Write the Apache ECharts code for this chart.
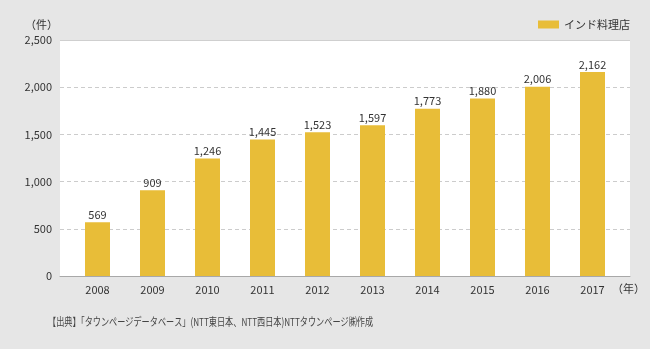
<!DOCTYPE html>
<html><head><meta charset="utf-8">
<script src="https://cdn.jsdelivr.net/npm/echarts@6/dist/echarts.min.js"></script>
<style>html,body{margin:0;padding:0;background:#e6e6e6}#c{width:650px;height:349px}</style>
</head><body><div id="c"></div>
<script>
const categories = ['2008','2009','2010','2011','2012','2013','2014','2015','2016','2017'];
const values = [569, 909, 1246, 1445, 1523, 1597, 1773, 1880, 2006, 2162];
const seriesName = 'インド料理店';
const yTicks = [0, 500, 1000, 1500, 2000, 2500];
const FONT = '"Noto Sans CJK JP", "Noto Sans", sans-serif';
const chart = echarts.init(document.getElementById('c'), null, {renderer:'canvas'});
const yMax = yTicks[yTicks.length-1];
chart.setOption({
  backgroundColor: '#e6e6e6',
  animation: false,
  textStyle: {fontFamily: FONT},
  grid: [
    {left: 60, right: 20, top: 40, bottom: 73, show: true, backgroundColor: '#ffffff', borderWidth: 0,
      containLabel: false, outerBoundsMode: 'none'},
    {left: 70, right: 30, top: 40, bottom: 73, show: false, containLabel: false, outerBoundsMode: 'none'}
  ],
  legend: {
    right: 15, top: 14, itemWidth: 21, itemHeight: 8, itemGap: 4, icon: 'rect',
    textStyle: {fontFamily: FONT, fontSize: 11, color: '#333'},
    data: [seriesName]
  },
  xAxis: [
    {gridIndex: 0, type: 'category', data: categories,
      axisTick: {show: false}, axisLabel: {show: false},
      axisLine: {lineStyle: {color: '#a8a8a8', width: 1}}},
    {gridIndex: 1, type: 'category', data: categories,
      axisTick: {show: false}, axisLine: {show: false},
      axisLabel: {fontFamily: FONT, fontSize: 11, color: '#333', margin: 8}}
  ],
  yAxis: [
    {gridIndex: 0, type: 'value', min: 0, max: yMax, interval: 500,
      axisLine: {show: false}, axisTick: {show: false},
      axisLabel: {fontFamily: FONT, fontSize: 11, color: '#333', margin: 8,
        formatter: v => v.toLocaleString('en-US')},
      splitLine: {lineStyle: {color: '#cccccc', type: [4, 3], width: 1}},
      name: '（件）', nameLocation: 'end', nameGap: 10,
      nameTextStyle: {fontFamily: FONT, fontSize: 11, color: '#333', align: 'right', padding: [0, 2, 0, 0]}},
    {gridIndex: 1, type: 'value', min: 0, max: yMax, interval: 500, show: false, splitLine: {show: false}}
  ],
  graphic: [
    {type: 'line', shape: {x1: 60, y1: 40.5, x2: 630, y2: 40.5}, style: {stroke: '#cfcfcf', lineWidth: 1}, z: 10},
    {type: 'text', x: 612, y: 283, style: {text: '（年）', font: '11px ' + FONT, fill: '#333'}},
    {type: 'text', x: 48, y: 316, scaleX: 0.74, originX: 0,
      style: {text: '【出典】「タウンページデータベース」(NTT東日本、NTT西日本)NTTタウンページ㈱作成', font: '11px ' + FONT, fill: '#444'}}
  ],
  series: [{
    name: seriesName, type: 'bar', xAxisIndex: 1, yAxisIndex: 1, data: values, barWidth: 25,
    itemStyle: {color: '#e8bd38'},
    label: {show: true, position: 'top', distance: 2, fontFamily: FONT, fontSize: 11, color: '#333',
      formatter: p => p.value.toLocaleString('en-US')}
  }]
});
</script></body></html>
